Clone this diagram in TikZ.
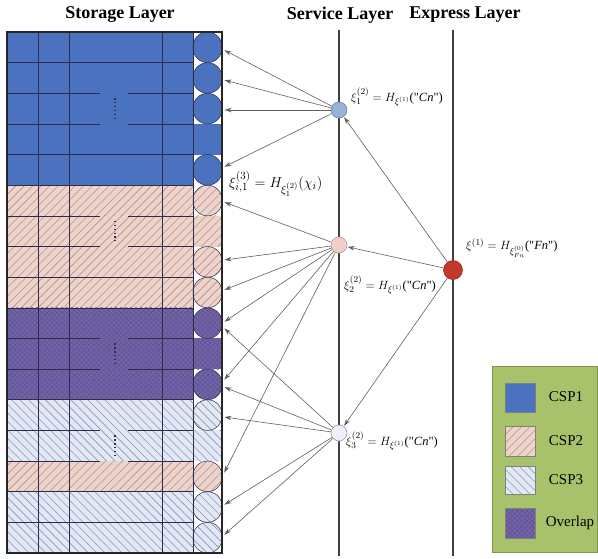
\documentclass[tikz,border=0pt]{standalone}
\usepackage{fontspec}
\setmainfont{Liberation Serif}
\usetikzlibrary{patterns.meta,arrows.meta}
\definecolor{cspone}{RGB}{74,114,191}
\definecolor{pinkbg}{RGB}{236,212,205}
\definecolor{pinkln}{RGB}{190,140,130}
\definecolor{lbbg}{RGB}{226,232,244}
\definecolor{lbln}{RGB}{140,150,185}
\definecolor{purbg}{RGB}{114,100,166}
\definecolor{purln}{RGB}{92,80,146}
\definecolor{gridc}{RGB}{45,45,75}
\definecolor{legbg}{RGB}{168,194,108}
\definecolor{nodeA}{RGB}{149,179,215}
\definecolor{nodeB}{RGB}{242,208,200}
\definecolor{nodeC}{RGB}{236,241,250}
\definecolor{nodeE}{RGB}{192,57,43}
\definecolor{linec}{RGB}{95,95,95}
\newcommand{\qd}{\textquotedbl}
\tikzset{
  cspA/.style={fill=cspone},
  cspB/.style={preaction={fill=pinkbg}, pattern={Lines[angle=45,distance=6pt,line width=0.6pt]}, pattern color=pinkln},
  cspC/.style={preaction={fill=lbbg}, pattern={Lines[angle=-45,distance=6pt,line width=0.6pt]}, pattern color=lbln},
  ovl/.style={preaction={fill=purbg}, preaction={pattern={Lines[angle=45,distance=3.5pt,line width=0.4pt]}, pattern color=purln}, pattern={Lines[angle=-45,distance=3.5pt,line width=0.4pt]}, pattern color=purln},
  gridln/.style={gridc, line width=0.6pt},
  layerln/.style={black!75, line width=1.6pt},
  snode/.style={circle, minimum size=16pt, inner sep=0pt, line width=0.5pt},
  arr/.style={linec, line width=0.6pt, -{Stealth[length=7pt,width=4.5pt]}, shorten >=0.5pt},
  header/.style={font=\bfseries\fontsize{18}{20}\selectfont, inner sep=0pt},
  formula/.style={font=\fontsize{12.5}{14}\selectfont, inner sep=0pt, anchor=west},
  legtext/.style={font=\fontsize{15}{16}\selectfont, inner sep=0pt},
}
\begin{document}
\begin{tikzpicture}[x=1pt,y=-1pt]
\useasboundingbox (0,0) rectangle (598,558);
% headers
\node[header] (hst) at (120,15) {Storage Layer};
\node[header] (hsv) at (340,15) {Service Layer};
\node[header] (hex) at (465,15) {Express Layer};
% storage rows
\fill[white] (193,32) rectangle (222,553);
\foreach \i/\s/\c in {1/cspA/1,2/cspA/1,3/cspA/1,4/cspA/0,5/cspA/1,6/cspB/1,7/cspB/0,8/cspB/1,9/cspB/1,10/ovl/1,11/ovl/0,12/ovl/1,13/cspC/1,14/cspC/0,15/cspB/1,16/cspC/1,17/cspC/1}{
  \pgfmathsetmacro\ya{32+(\i-1)*30.647}
  \pgfmathsetmacro\yb{\ya+30.647}
  \path[\s] (7,\ya) rectangle (193,\yb);
  \ifnum\c=1
    \path[\s, rounded corners=14.5pt] (193,\ya) rectangle (222,\yb);
  \else
    \path[\s] (193,\ya) rectangle (222,\yb);
  \fi
}
% grid lines
\foreach \x in {38,69,162,193} \draw[gridln] (\x,32) -- (\x,553);
\foreach \i in {1,4,5,8,9,12,15,16} {
  \pgfmathsetmacro\yy{32+\i*30.647}
  \draw[gridln] (7,\yy) -- (193,\yy);
}
\foreach \i in {2,3,6,7,10,11,13,14} {
  \pgfmathsetmacro\yy{32+\i*30.647}
  \draw[gridln] (7,\yy) -- (100,\yy);
  \draw[gridln] (128,\yy) -- (193,\yy);
}
% circle outlines
\foreach \i in {1,2,3,5,6,8,9,10,12,13,15,16,17} {
  \pgfmathsetmacro\ya{32+(\i-1)*30.647}
  \pgfmathsetmacro\yb{\ya+30.647}
  \draw[gridc, line width=0.5pt, rounded corners=14.5pt] (193,\ya) rectangle (222,\yb);
}
% dots
\foreach \i in {3,7,11,14} {
  \pgfmathsetmacro\ya{32+(\i-1)*30.647+5}
  \pgfmathsetmacro\yb{\ya+20.6}
  \draw[gridc, line width=1.4pt, dash pattern=on 1.3pt off 2.6pt] (115,\ya) -- (115,\yb);
}
% outer border
\draw[black!85, line width=1.6pt] (7,32) rectangle (222,553);
% layer lines
\draw[layerln] (339,30) -- (339,556);
\draw[layerln] (453,30) -- (453,556);
% target coordinates on storage edge
\coordinate (p1) at (224,50);
\coordinate (p2) at (224,80);
\coordinate (p3) at (224,110);
\coordinate (p5) at (224,167);
\coordinate (p6) at (224,202);
\coordinate (p8) at (224,260);
\coordinate (p9) at (224,290);
\coordinate (p10a) at (224,322);
\coordinate (p10b) at (224,328);
\coordinate (p12a) at (224,380);
\coordinate (p12b) at (224,387);
\coordinate (p13) at (224,417);
\coordinate (p15) at (224,473);
\coordinate (p16) at (224,505);
\coordinate (p17) at (224,535);
% service and express nodes
\node[snode, fill=nodeA, draw=nodeA!70!black] (s1) at (339,110) {};
\node[snode, fill=nodeB, draw=nodeB!70!black] (s2) at (339,245) {};
\node[snode, fill=nodeC, draw=nodeC!60!black] (s3) at (339,433) {};
\node[snode, minimum size=19pt, fill=nodeE, draw=nodeE!70!black] (e) at (453,270) {};
% arrows
\foreach \t in {p1,p2,p3,p5} \draw[arr] (s1) -- (\t);
\foreach \t in {p6,p8,p9,p10a,p12a,p15} \draw[arr] (s2) -- (\t);
\foreach \t in {p10b,p12b,p13,p16,p17} \draw[arr] (s3) -- (\t);
\draw[arr] (e) -- (s1);
\draw[arr] (e) -- (s2);
\draw[arr] (e) -- (s3);
% formulas
\node[formula] (f1) at (351,97) {$\xi_1^{(2)}=H_{\xi^{(1)}}$(\qd\textit{Cn}\qd)};
\node[formula, font=\fontsize{15.5}{17}\selectfont] (f2) at (229,184) {$\xi_{i,1}^{(3)}=H_{\xi_1^{(2)}}(\chi_i)$};
\node[formula] (f3) at (466,248) {$\xi^{(1)}=H_{\xi^{(0)}_{Fn}}$(\qd\textit{Fn}\qd)};
\node[formula] (f4) at (344,285) {$\xi_2^{(2)}=H_{\xi^{(1)}}$(\qd\textit{Cn}\qd)};
\node[formula] (f5) at (346,441) {$\xi_3^{(2)}=H_{\xi^{(1)}}$(\qd\textit{Cn}\qd)};
% legend
\draw[legbg!75!black, fill=legbg, line width=0.6pt] (492,366) rectangle (597,552);
\path[cspA, draw=gray] (505,383) rectangle (535,412);
\path[cspB, draw=gray] (505,426) rectangle (535,456);
\path[cspC, draw=gray] (505,466) rectangle (535,494);
\path[ovl, draw=gray] (505,508) rectangle (535,538);
\node[legtext] (l1) at (566,397) {CSP1};
\node[legtext] (l2) at (566,441) {CSP2};
\node[legtext] (l3) at (566,480) {CSP3};
\node[legtext] (l4) at (570,523) {Overlap};
\end{tikzpicture}
\end{document}
